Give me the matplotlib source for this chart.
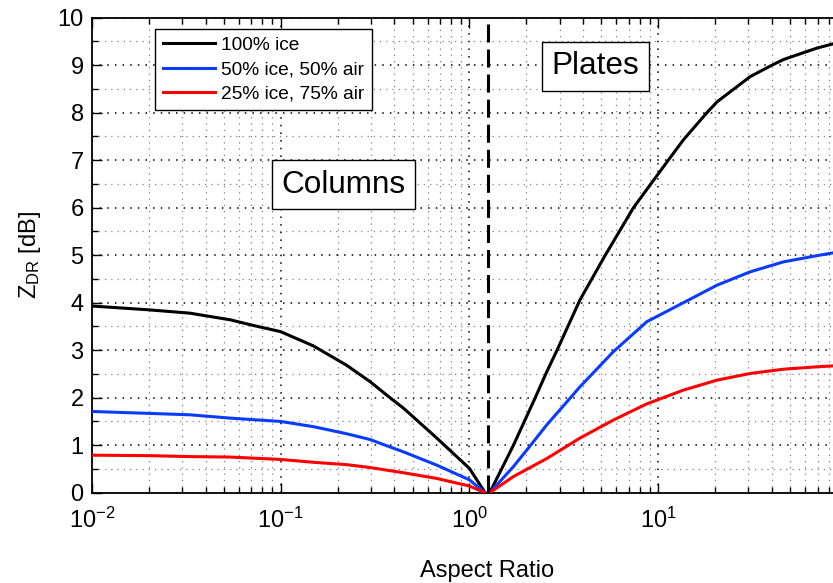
import matplotlib
matplotlib.use("Agg")
import matplotlib.pyplot as plt
from matplotlib.ticker import LogLocator, MultipleLocator

# ----------------------------------------
# Data: Z_DR against aspect ratio
# ----------------------------------------

# columns (aspect ratio < 1)
col_x_ice100 = [0.01, 0.02, 0.033, 0.054, 0.07, 0.1, 0.149, 0.224, 0.297, 0.379, 0.447, 0.671, 1.0, 1.21]
col_ice100 = [3.93, 3.85, 3.78, 3.64, 3.53, 3.39, 3.09, 2.68, 2.34, 2.0, 1.78, 1.15, 0.51, 0.0]
col_x_ice50 = [0.01, 0.02, 0.033, 0.054, 0.07, 0.1, 0.149, 0.224, 0.297, 0.358, 0.447, 0.671, 1.0, 1.21]
col_ice50 = [1.71, 1.67, 1.64, 1.57, 1.54, 1.50, 1.39, 1.24, 1.12, 1.0, 0.86, 0.58, 0.27, 0.0]
col_x_ice25 = [0.01, 0.02, 0.033, 0.054, 0.1, 0.149, 0.224, 0.297, 0.447, 0.671, 1.0, 1.21]
col_ice25 = [0.79, 0.78, 0.76, 0.75, 0.70, 0.64, 0.59, 0.53, 0.42, 0.30, 0.14, 0.0]

# plates (aspect ratio > 1)
pl_x_ice100 = [1.28, 1.71, 2.23, 2.57, 2.91, 3.85, 5.24, 7.39, 11.3, 13.6, 18.1, 20.5, 30.7, 40.0, 46.1, 69.2, 84.5]
pl_ice100 = [0.0, 1.00, 2.0, 2.55, 3.0, 4.06, 5.0, 6.0, 7.0, 7.43, 8.0, 8.23, 8.76, 9.0, 9.12, 9.36, 9.45]
pl_x_ice50 = [1.28, 1.71, 2.11, 2.57, 3.43, 3.85, 5.79, 8.70, 13.6, 20.5, 30.7, 46.1, 69.2, 84.5]
pl_ice50 = [0.0, 0.55, 1.0, 1.43, 2.0, 2.23, 2.97, 3.60, 4.0, 4.37, 4.65, 4.86, 4.99, 5.05]
pl_x_ice25 = [1.28, 1.71, 2.57, 3.85, 5.79, 8.70, 13.6, 20.5, 30.7, 46.1, 69.2, 84.5]
pl_ice25 = [0.0, 0.34, 0.72, 1.15, 1.53, 1.87, 2.16, 2.37, 2.51, 2.60, 2.65, 2.67]

labels = ["100% ice", "50% ice, 50% air", "25% ice, 75% air"]
colors = ["black", "#0a3cff", "#ff0000"]
sphere_ratio = 1.25  # dashed separator

# ----------------------------------------
# Fonts
# ----------------------------------------
plt.rcParams["font.family"] = ["Liberation Sans", "DejaVu Sans"]
plt.rcParams["mathtext.fontset"] = "custom"
plt.rcParams["mathtext.rm"] = "Liberation Sans"
plt.rcParams["mathtext.it"] = "Liberation Sans:italic"
plt.rcParams["mathtext.default"] = "regular"

fig = plt.figure(figsize=(8.33, 5.83), dpi=100)
# right edge of the axes runs past the figure border
ax = fig.add_axes([0.1104, 0.1549, 0.9064, 0.8147])

col_series = [(col_x_ice100, col_ice100), (col_x_ice50, col_ice50), (col_x_ice25, col_ice25)]
pl_series = [(pl_x_ice100, pl_ice100), (pl_x_ice50, pl_ice50), (pl_x_ice25, pl_ice25)]
for (cx, cy), (px, py), lab, col in zip(col_series, pl_series, labels, colors):
    ax.plot(cx, cy, color=col, lw=2.2, label=lab, zorder=3)
    ax.plot(px, py, color=col, lw=2.2, zorder=3)

sep = ax.axvline(sphere_ratio, color="black", lw=2.2, zorder=3)
sep.set_dashes((5.9, 2.3))

ax.set_xscale("log")
ax.set_xlim(0.01, 100)
ax.set_ylim(0, 10)
ax.set_xticks([0.01, 0.1, 1, 10])
ax.xaxis.set_minor_locator(LogLocator(base=10, subs=range(2, 10), numticks=20))
ax.yaxis.set_major_locator(MultipleLocator(1))
ax.yaxis.set_minor_locator(MultipleLocator(0.5))

# dotted grid, darker for major lines
ax.grid(True, which="major", color="black", lw=1.1, dashes=(1, 4))
ax.grid(True, which="minor", color="#808080", lw=0.9, dashes=(1, 4))
ax.set_axisbelow(True)

ax.tick_params(which="both", direction="in", top=True, right=True,
               labelsize=17, width=1)
ax.tick_params(which="major", length=7)
ax.tick_params(which="minor", length=4)
ax.tick_params(axis="x", pad=11)
ax.tick_params(axis="y", pad=6)
for sp in ax.spines.values():
    sp.set_linewidth(1.3)

ax.set_xlabel("Aspect Ratio", fontsize=17)
ax.xaxis.set_label_coords((487 - 92) / 755, -0.142)
ax.set_ylabel(r"$Z_{DR}$ [dB]", fontsize=17, labelpad=10)

leg = ax.legend(loc="upper left", bbox_to_anchor=(0.0834, 0.976),
                borderaxespad=0, fontsize=13.8, frameon=True, fancybox=False,
                framealpha=1, edgecolor="black", handlelength=2.75,
                handletextpad=0.3, labelspacing=0.35, borderpad=0.4)
leg.get_frame().set_linewidth(1.0)

box = dict(boxstyle="square,pad=0.3", facecolor="white", edgecolor="black", lw=1.0)
ax.text(0.214, 6.48, "Columns", fontsize=22.7, ha="center", va="center", bbox=box, zorder=4)
ax.text(4.66, 8.98, "Plates", fontsize=22.7, ha="center", va="center", bbox=box, zorder=4)

fig.savefig("out.png", dpi=100)
